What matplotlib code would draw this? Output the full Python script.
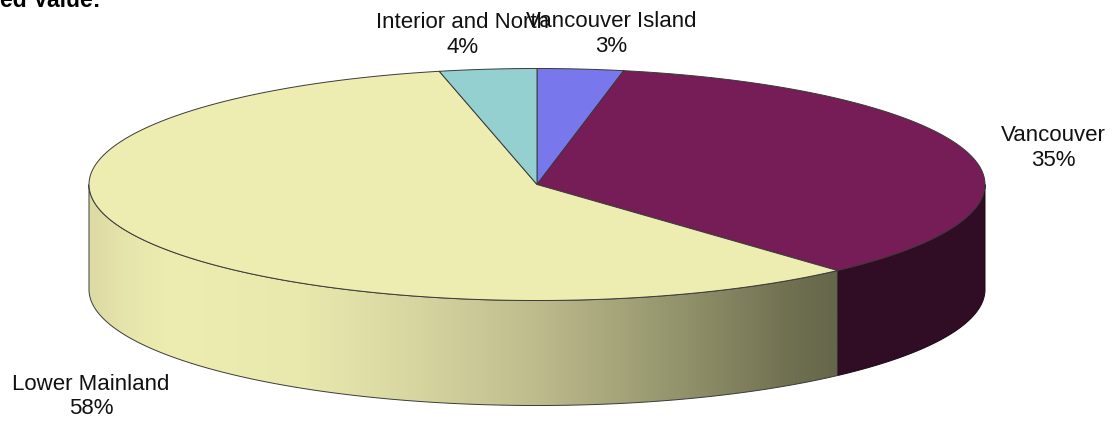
import numpy as np
import matplotlib
matplotlib.use("Agg")
import matplotlib.pyplot as plt
from matplotlib.colors import LinearSegmentedColormap
from matplotlib.patches import Polygon

plt.rcParams['font.family'] = ['Liberation Sans', 'DejaVu Sans']

# clockwise from 12 o'clock
categories = ["Vancouver Island", "Vancouver", "Lower Mainland", "Interior and North"]
values = [3.1, 35.2, 58.2, 3.5]
top_colors = ["#7878EC", "#761C56", "#EDEDB1", "#94D0D0"]
side_dark = "#300D25"
title_fragment = "ed Value:"

W, H = 1114, 424
CX, CY, RX, RY, DEPTH = 537.0, 184.5, 448.0, 116.0, 105.0
EDGE = "#3A3A3A"

fig = plt.figure(figsize=(W / 100, H / 100), dpi=100, facecolor="white")
ax = fig.add_axes([0, 0, 1, 1])
ax.set_xlim(0, W)
ax.set_ylim(H, 0)
ax.axis("off")


def rim(a0, a1, n=300, dy=0.0):
    t = np.radians(np.linspace(a0, a1, n))
    return np.column_stack([CX + RX * np.sin(t), CY - RY * np.cos(t) + dy])


edges = np.concatenate([[0], np.cumsum(values) / np.sum(values) * 360])
spans = list(zip(edges[:-1], edges[1:]))

sh_x = [89, 125, 170, 300, 420, 540, 680, 800, 837, 985]
sh_c = ["#DDDBA4", "#E6E5AB", "#EDEDB1", "#E9E9AE", "#D6D5A0", "#BDBB8C", "#93936C", "#6E6E50", "#66664A", "#66664A"]
cmap = LinearSegmentedColormap.from_list(
    "side", [((x - sh_x[0]) / (sh_x[-1] - sh_x[0]), c) for x, c in zip(sh_x, sh_c)])

for (a0, a1), col, name in zip(spans, top_colors, categories):
    lo, hi = max(a0, 90), min(a1, 270)
    if lo >= hi:
        continue
    pts = np.vstack([rim(lo, hi), rim(hi, lo, dy=DEPTH)])
    if name == "Lower Mainland":
        poly = Polygon(pts, closed=True, fc="none", ec="none")
        ax.add_patch(poly)
        im = ax.imshow(np.linspace(0, 1, 897)[None, :], cmap=cmap, aspect="auto",
                       extent=[89, 985, H, 0], zorder=1)
        im.set_clip_path(poly)
        ax.set_xlim(0, W)
        ax.set_ylim(H, 0)
        ax.add_patch(Polygon(pts, closed=True, fc="none", ec=EDGE, lw=0.7, zorder=2))
    else:
        ax.add_patch(Polygon(pts, closed=True, fc=side_dark, ec="#1A0714", lw=0.7, zorder=2))

for (a0, a1), col in zip(spans, top_colors):
    pts = np.vstack([[CX, CY], rim(a0, a1)])
    ax.add_patch(Polygon(pts, closed=True, fc=col, ec=EDGE, lw=0.7, zorder=3, joinstyle="round"))

label_pos = {
    "Interior and North": (463, 35),
    "Vancouver Island": (611.5, 34),
    "Vancouver": (1053, 148),
    "Lower Mainland": (91, 396.5),
}
for name, v in zip(reversed(categories), reversed(values)):
    x, y = label_pos[name]
    ax.text(x, y, f"{name}\n{v:.0f}%", ha="center", va="center", fontsize=16,
            linespacing=1.2, color="#111111", zorder=5)

ax.text(101, 7, title_fragment, ha="right", va="baseline", fontsize=16.5,
        fontweight="bold", color="black", zorder=5)

fig.savefig("out.png", dpi=100, facecolor="white")
